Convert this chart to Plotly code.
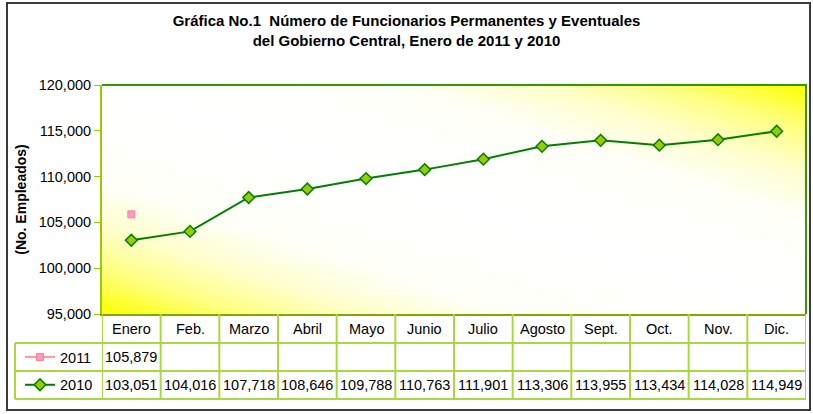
import numpy as np
import plotly.graph_objects as go

MONTHS = ["Enero", "Feb.", "Marzo", "Abril", "Mayo", "Junio",
          "Julio", "Agosto", "Sept.", "Oct.", "Nov.", "Dic."]
EMP_2011 = [105879]
EMP_2010 = [103051, 104016, 107718, 108646, 109788, 110763,
            111901, 113306, 113955, 113434, 114028, 114949]
Y_TICKS = [95000, 100000, 105000, 110000, 115000, 120000]

FONT = "Liberation Sans, Arial, sans-serif"
W, H = 813, 414
M_L, M_R, M_T, M_B = 102, 7, 85, 100
PLOT_W = W - M_L - M_R
PLOT_H = H - M_T - M_B


def px_x(p):
    return (p - M_L) / PLOT_W


def px_y(p):
    return (H - M_B - p) / PLOT_H


# rows of the data table under the plot (pixel y of each boundary)
ROW_EDGES = [314, 343, 371, 399]
TABLE_LEFT = 15
GRID = "#A9D840"

# excel style diagonal gradient for the plot area
u = np.linspace(0, 1, 60)
uu, vv = np.meshgrid(u, u)
shade = np.abs(uu + vv - 1)

bg = go.Heatmap(
    x=u, y=u, z=shade,
    xaxis="x", yaxis="y",
    colorscale=[[0, "#FFFFFF"], [0.42, "#FFFFF8"], [0.62, "#FFFFCC"],
                [0.8, "#FFFF80"], [1, "#FFFF00"]],
    zmin=0, zmax=1, zsmooth="best", showscale=False, hoverinfo="skip",
)

s2011 = go.Scatter(
    x=MONTHS[:len(EMP_2011)], y=EMP_2011, name="2011",
    mode="lines+markers", legendgroup="a",
    line=dict(color="#FF9999", width=2),
    marker=dict(symbol="square", size=7, color="#FF99CC", line=dict(color="#FF8080", width=1)),
    xaxis="x2", yaxis="y2",
)
s2010 = go.Scatter(
    x=MONTHS, y=EMP_2010, name="2010",
    mode="lines+markers", legendgroup="b",
    line=dict(color="#008000", width=2),
    marker=dict(symbol="diamond", size=9, color="#99CC00", line=dict(color="#008000", width=1.5)),
    xaxis="x2", yaxis="y2",
)

fig = go.Figure(data=[bg, s2011, s2010])

fig.update_layout(
    width=W, height=H,
    margin=dict(l=M_L, r=M_R, t=M_T, b=M_B),
    paper_bgcolor="white",
    plot_bgcolor="white",
    font=dict(family=FONT, color="black", size=14.5),
    title=dict(
        text="Gráfica No.1  Número de Funcionarios Permanentes y Eventuales<br>"
             "del Gobierno Central, Enero de 2011 y 2010",
        font=dict(size=15, weight="bold", family=FONT),
        x=0.5, xref="container", xanchor="center",
        y=1 - 26 / H, yref="container", yanchor="top",
    ),
    xaxis=dict(range=[0, 1], visible=False, fixedrange=True),
    yaxis=dict(range=[0, 1], visible=False, fixedrange=True),
    xaxis2=dict(
        overlaying="x", type="category", categoryorder="array", categoryarray=MONTHS,
        range=[-0.5, len(MONTHS) - 0.5], showticklabels=False, ticks="",
        showgrid=False, zeroline=False,
        showline=True, linecolor="#80A800", linewidth=2,
    ),
    yaxis2=dict(
        overlaying="y", side="left", range=[Y_TICKS[0], Y_TICKS[-1]],
        tickvals=Y_TICKS, tickformat=",", ticks="outside", ticklen=6,
        tickcolor="#99CC00", tickwidth=1, showgrid=False, zeroline=False,
        showline=True, linecolor="#99CC00", linewidth=2,
        tickfont=dict(size=14.5, color="black"),
        title=dict(text="(No. Empleados)", font=dict(size=14, weight="bold"), standoff=9),
    ),
    legend=dict(
        x=px_x(20), y=px_y(341), xanchor="left", yanchor="top",
        bgcolor="rgba(0,0,0,0)", font=dict(size=14.5, color="black"),
        tracegroupgap=6, itemclick=False,
    ),
)

shapes = []
# plot-area top and right edges
shapes.append(dict(type="path", xref="x2 domain", yref="y2 domain",
                   path="M 0,1 L 1,1 L 1,0", line=dict(color="#339900", width=2)))
# table grid
for i in range(len(MONTHS) + 1):
    shapes.append(dict(type="line", xref="x2", yref="paper",
                       x0=i - 0.5, x1=i - 0.5, y0=0, y1=px_y(ROW_EDGES[-1]),
                       line=dict(color=GRID, width=2)))
for edge in ROW_EDGES[1:]:
    shapes.append(dict(type="line", xref="paper", yref="paper",
                       x0=px_x(TABLE_LEFT), x1=1, y0=px_y(edge), y1=px_y(edge),
                       line=dict(color=GRID, width=2)))
shapes.append(dict(type="line", xref="paper", yref="paper",
                   x0=px_x(TABLE_LEFT), x1=px_x(TABLE_LEFT),
                   y0=px_y(ROW_EDGES[1]), y1=px_y(ROW_EDGES[-1]),
                   line=dict(color=GRID, width=2)))
# outer chart border
shapes.append(dict(type="rect", xref="paper", yref="paper",
                   x0=px_x(7), x1=px_x(810), y0=px_y(410), y1=px_y(3),
                   line=dict(color="#3A3A3A", width=2)))
fig.update_layout(shapes=shapes)

row_mid = [(a + b) / 2 for a, b in zip(ROW_EDGES[:-1], ROW_EDGES[1:])]
for m in MONTHS:
    fig.add_annotation(x=m, y=px_y(row_mid[0]), xref="x2", yref="paper",
                       text=m, showarrow=False, yanchor="middle")
for m, val in zip(MONTHS, EMP_2011):
    fig.add_annotation(x=m, y=px_y(row_mid[1]), xref="x2", yref="paper",
                       text=f"{val:,}", showarrow=False, yanchor="middle")
for m, val in zip(MONTHS, EMP_2010):
    fig.add_annotation(x=m, y=px_y(row_mid[2]), xref="x2", yref="paper",
                       text=f"{val:,}", showarrow=False, yanchor="middle")

fig.write_html("out.html", config={"displayModeBar": False},
               post_script="document.body.style.margin='0';")
